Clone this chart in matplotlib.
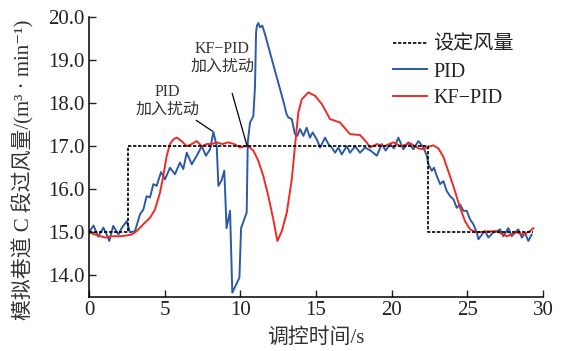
import matplotlib
matplotlib.use("Agg")
import matplotlib.pyplot as plt

plt.rcParams['font.family'] = ['Liberation Serif', 'Noto Sans CJK SC', 'DejaVu Sans']

# Setpoint
set_t = [0, 2.6, 2.6, 22.4, 22.4, 29.35]
set_v = [15.0, 15.0, 17.0, 17.0, 15.0, 15.0]

# PID
pid_t = [0.0, 0.3, 0.6, 0.95, 1.17, 1.34, 1.6, 1.94, 2.16, 2.49, 2.71, 3.04, 3.37, 3.59, 3.81,
         4.03, 4.25, 4.47, 4.76, 5.02, 5.35, 5.68, 6.01, 6.23, 6.46, 6.79, 7.12, 7.45, 7.73, 8.0,
         8.22, 8.44, 8.55, 8.75, 8.94, 9.09, 9.32, 9.47, 9.94, 10.05, 10.42, 10.49, 10.64, 10.86,
         10.97, 11.04, 11.1, 11.19, 11.3, 11.45, 11.63, 12.29, 12.84, 13.06, 13.17, 13.4, 13.61,
         13.77, 13.94, 14.17, 14.38, 14.6, 14.78, 15.05, 15.27, 15.6, 15.82, 16.04, 16.26, 16.48,
         16.7, 17.03, 17.25, 17.58, 17.91, 18.24, 18.6, 19.02, 19.35, 19.6, 19.9, 20.15, 20.44,
         20.77, 21.1, 21.43, 21.77, 22.1, 22.32, 22.43, 22.65, 22.8, 22.98, 23.2, 23.42, 23.64,
         23.86, 24.08, 24.3, 24.52, 24.74, 24.96, 25.18, 25.4, 25.62, 25.73, 25.96, 26.17, 26.39,
         26.72, 26.94, 27.16, 27.38, 27.71, 27.93, 28.15, 28.37, 28.6, 28.82, 29.03, 29.25]
pid_v = [15.0, 15.16, 14.9, 15.11, 14.95, 14.8, 15.15, 14.95, 15.1, 15.26, 15.0, 15.03, 15.42,
         15.53, 15.84, 15.81, 16.12, 16.08, 16.4, 16.23, 16.5, 16.35, 16.62, 16.47, 16.85, 16.58,
         16.78, 17.0, 16.78, 16.93, 17.33, 17.0, 16.08, 16.2, 16.43, 15.1, 15.5, 13.6, 13.95, 15.1,
         15.46, 17.09, 17.55, 17.7, 18.4, 19.65, 19.8, 19.86, 19.76, 19.8, 19.6, 18.75, 18.05,
         17.74, 17.67, 17.63, 17.28, 17.24, 17.4, 17.24, 17.43, 17.2, 17.32, 17.16, 16.97, 17.2,
         17.05, 16.97, 16.85, 16.97, 16.81, 17.0, 16.85, 17.0, 16.85, 16.97, 16.9, 16.78, 17.05,
         16.9, 17.05, 16.95, 17.2, 16.93, 17.09, 16.93, 17.12, 16.97, 16.78, 16.58, 16.43, 16.5,
         16.31, 16.12, 16.19, 15.96, 15.84, 15.77, 15.57, 15.65, 15.5, 15.5, 15.3, 15.19, 15.0,
         14.84, 14.95, 15.03, 14.88, 15.0, 15.02, 15.07, 14.91, 15.1, 14.91, 15.0, 15.07, 14.88,
         14.98, 14.8, 14.95]

# KF-PID
kf_t = [0, 0.4, 1.06, 1.5, 2.16, 2.82, 3.15, 3.59, 4.03, 4.36, 4.69, 4.91, 5.13, 5.35, 5.57,
        5.8, 6.12, 6.46, 6.79, 7.12, 7.45, 7.78, 8.1, 8.44, 8.8, 9.2, 9.6, 9.98, 10.31, 10.53,
        10.86, 11.19, 11.52, 11.85, 12.18, 12.45, 12.74, 13.07, 13.4, 13.61, 13.83, 14.06, 14.5,
        14.94, 15.38, 15.93, 16.59, 17.25, 17.91, 18.35, 18.57, 19.02, 19.5, 20.11, 20.6, 21.22,
        21.77, 22.1, 22.43, 22.76, 23.09, 23.42, 23.86, 24.19, 24.52, 24.85, 25.18, 25.62, 26.2,
        26.94, 27.6, 28.26, 28.7, 29.14, 29.37]
kf_v = [15.0, 14.95, 14.88, 14.91, 14.91, 14.95, 15.03, 15.19, 15.34, 15.53, 15.92, 16.31, 16.77,
        17.05, 17.16, 17.2, 17.12, 17.0, 17.05, 17.12, 17.0, 17.05, 17.05, 17.09, 17.05, 17.09,
        17.05, 16.97, 17.0, 17.0, 16.9, 16.66, 16.31, 15.84, 15.3, 14.8, 15.03, 15.46, 16.23, 17.0,
        17.78, 18.09, 18.25, 18.17, 17.98, 17.63, 17.55, 17.28, 17.26, 17.09, 16.97, 17.05, 17.0,
        17.09, 17.0, 17.07, 16.95, 16.93, 16.99, 17.02, 16.95, 16.75, 16.3, 15.95, 15.57, 15.26,
        15.07, 15.0, 15.02, 15.03, 14.91, 15.0, 14.95, 15.03, 15.1]

xticks = [0, 5, 10, 15, 20, 25, 30]
yticks = [14.0, 15.0, 16.0, 17.0, 18.0, 19.0, 20.0]

fig = plt.figure(figsize=(5.63, 3.51), dpi=100)
ax = fig.add_axes([89/563, 1-297/351, (543-89)/563, (297-17)/351])

ax.plot(set_t, set_v, color='black', ls=(0, (2, 1)), lw=1.2, label='设定风量', zorder=3)
ax.plot(pid_t, pid_v, color='#2b5ba8', lw=1.4, label='PID', zorder=2)
ax.plot(kf_t, kf_v, color='#ee2b25', lw=1.4, label='KF−PID', zorder=2)

ax.set_xlim(0, 30)
ax.set_ylim(13.5, 20.0)
ax.set_xticks(xticks)
ax.set_xticklabels([str(x) for x in xticks])
ax.set_yticks(yticks)
ax.set_yticklabels([f'{y:.1f}' for y in yticks])
ax.tick_params(direction='in', length=5, width=1, labelsize=15, colors='#222222', pad=3)
for s in ['top', 'right']:
    ax.spines[s].set_visible(False)
for s in ['left', 'bottom']:
    ax.spines[s].set_linewidth(1.1)

ax.set_xlabel('调控时间/s', fontsize=15, color='#333333')
ax.xaxis.set_label_coords((316-89)/454, (297-338)/280)
ax.xaxis.label.set_va('center')
ax.set_ylabel('模拟巷道 C 段过风量/(m³ · min⁻¹)', fontsize=15, color='#333333')
ax.yaxis.set_label_coords((23-89)/454, (297-170)/280)
ax.yaxis.label.set_va('center')

ax.annotate('PID\n加入扰动', xy=(8.15, 17.35), xytext=(5.2, 18.05), fontsize=11.5,
            color='#333333', ha='center', va='center', linespacing=1.1,
            arrowprops=dict(arrowstyle='-', color='black', lw=0.9, shrinkA=14, shrinkB=0))
ax.annotate('KF−PID\n加入扰动', xy=(10.45, 17.0), xytext=(8.8, 19.05), fontsize=11.5,
            color='#333333', ha='center', va='center', linespacing=1.1,
            arrowprops=dict(arrowstyle='-', color='black', lw=0.9, shrinkA=12, shrinkB=0))

leg = ax.legend(loc='upper left', bbox_to_anchor=(0.652, 0.962), frameon=False, fontsize=14.5,
                handlelength=1.7, handletextpad=0.3, labelspacing=0.38, borderaxespad=0)
for t in leg.get_texts():
    t.set_color('#222222')

fig.savefig('out.png', dpi=100)
